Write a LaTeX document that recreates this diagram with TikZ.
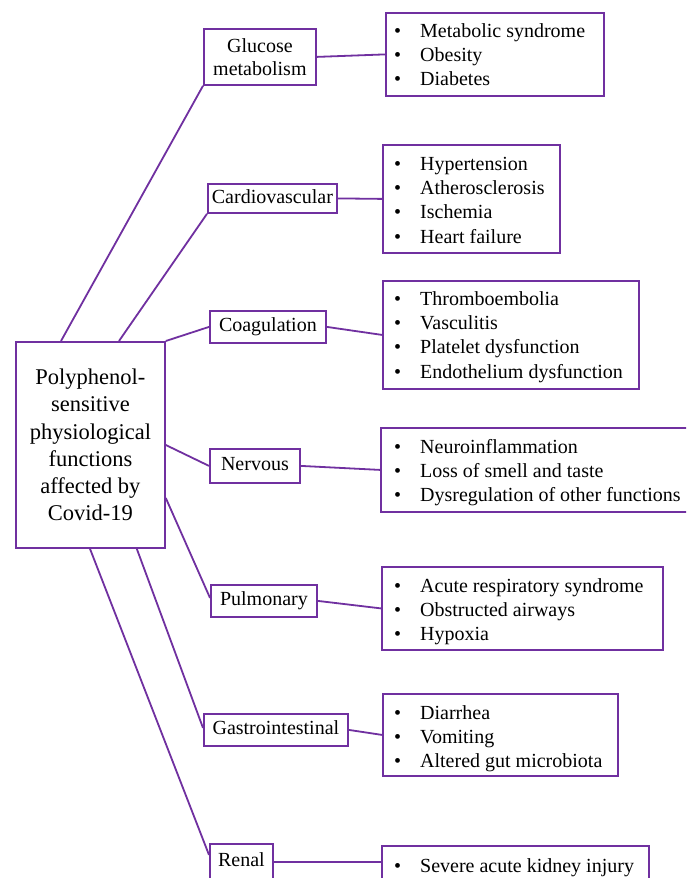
\documentclass[tikz,border=0pt]{standalone}
\usepackage{fontspec}
\setmainfont{Liberation Serif}
\definecolor{pur}{HTML}{7030A0}
\tikzset{
  bx/.style={draw=pur, line width=1.8pt, inner sep=0pt, anchor=north west,
    font=\fontsize{20}{23}\selectfont},
  lab/.style={text height=14pt, text depth=4pt},
  conn/.style={draw=pur, line width=1.8pt},
  lst/.style={anchor=base west, inner sep=0pt, font=\fontsize{20}{24.4}\selectfont},
}
\newcommand{\bulist}[1]{\begin{tabular}[t]{@{}p{26pt}@{}l@{}}#1\end{tabular}}
\begin{document}
\begin{tikzpicture}[x=1pt,y=-1pt]
\useasboundingbox (0,0) rectangle (686,878);
\clip (0,0) rectangle (686,878);
\fill[white] (0,0) rectangle (686,878);

% central
\node[bx, minimum width=149, minimum height=206, align=center,
  font=\fontsize{22.5}{27.2}\selectfont] (c) at (15,341)
  {Polyphenol-\\sensitive\\physiological\\functions\\affected by\\Covid-19};

% glucose
\node[bx, minimum width=112, minimum height=56, align=center] (g) at (203,28) {Glucose\\metabolism};
\node[bx, minimum width=218, minimum height=83] (gd) at (385,12) {};
\node[lst] (gdt) at (394,37) {\bulist{\textbullet & Metabolic syndrome\\ \textbullet & Obesity\\ \textbullet & Diabetes}};

% cardiovascular
\node[bx, lab, minimum width=129, minimum height=29] (cv) at (207,183) {Cardiovascular};
\node[bx, minimum width=177, minimum height=108] (cvd) at (382,144) {};
\node[lst] (cvdt) at (394,170) {\bulist{\textbullet & Hypertension\\ \textbullet & Atherosclerosis\\ \textbullet & Ischemia\\ \textbullet & Heart failure}};

% coagulation
\node[bx, lab, minimum width=116, minimum height=32] (co) at (209,310) {Coagulation};
\node[bx, minimum width=256, minimum height=108] (cod) at (382,280) {};
\node[lst] (codt) at (394,305) {\bulist{\textbullet & Thromboembolia\\ \textbullet & Vasculitis\\ \textbullet & Platelet dysfunction\\ \textbullet & Endothelium dysfunction}};

% nervous
\node[bx, lab, minimum width=90, minimum height=34] (n) at (209,448) {Nervous};
\node[bx, minimum width=312, minimum height=84] (nd) at (380,427) {};
\node[lst] (ndt) at (394,453) {\bulist{\textbullet & Neuroinflammation\\ \textbullet & Loss of smell and taste\\ \textbullet & Dysregulation of other functions}};

% pulmonary
\node[bx, lab, minimum width=106, minimum height=32] (p) at (210,584) {Pulmonary};
\node[bx, minimum width=281, minimum height=83] (pd) at (381,566) {};
\node[lst] (pdt) at (394,592) {\bulist{\textbullet & Acute respiratory syndrome\\ \textbullet & Obstructed airways\\ \textbullet & Hypoxia}};

% gastrointestinal
\node[bx, lab, minimum width=144, minimum height=32] (gi) at (203,713) {Gastrointestinal};
\node[bx, minimum width=235, minimum height=82] (gid) at (382,693) {};
\node[lst] (gidt) at (394,719) {\bulist{\textbullet & Diarrhea\\ \textbullet & Vomiting\\ \textbullet & Altered gut microbiota}};

% renal
\node[bx, lab, minimum width=63, minimum height=36] (r) at (209,843) {Renal};
\node[bx, minimum width=267, minimum height=60] (rd) at (381,845) {};
\node[lst] (rdt) at (394,872) {\bulist{\textbullet & Severe acute kidney injury}};

% connectors central -> categories
\draw[conn] ([xshift=46pt]c.north west) -- (g.south west);
\draw[conn] ([xshift=104pt]c.north west) -- (cv.south west);
\draw[conn] (c.north east) -- (co.west);
\draw[conn] ([yshift=-104pt]c.north east) -- (n.west);
\draw[conn] ([yshift=-157pt]c.north east) -- ([yshift=3pt]p.west);
\draw[conn] ([xshift=-29pt]c.south east) -- ([yshift=2pt]gi.west);
\draw[conn] ([xshift=75pt]c.south west) -- ([yshift=7pt]r.west);

% connectors categories -> details
\draw[conn] (g.east) -- (gd.west);
\draw[conn] (cv.east) -- (cvd.west);
\draw[conn] (co.east) -- (cod.west);
\draw[conn] (n.east) -- (nd.west);
\draw[conn] (p.east) -- (pd.west);
\draw[conn] (gi.east) -- (gid.west);
\draw[conn] (r.east) -- ([yshift=-17pt]rd.north west);
\end{tikzpicture}
\end{document}
